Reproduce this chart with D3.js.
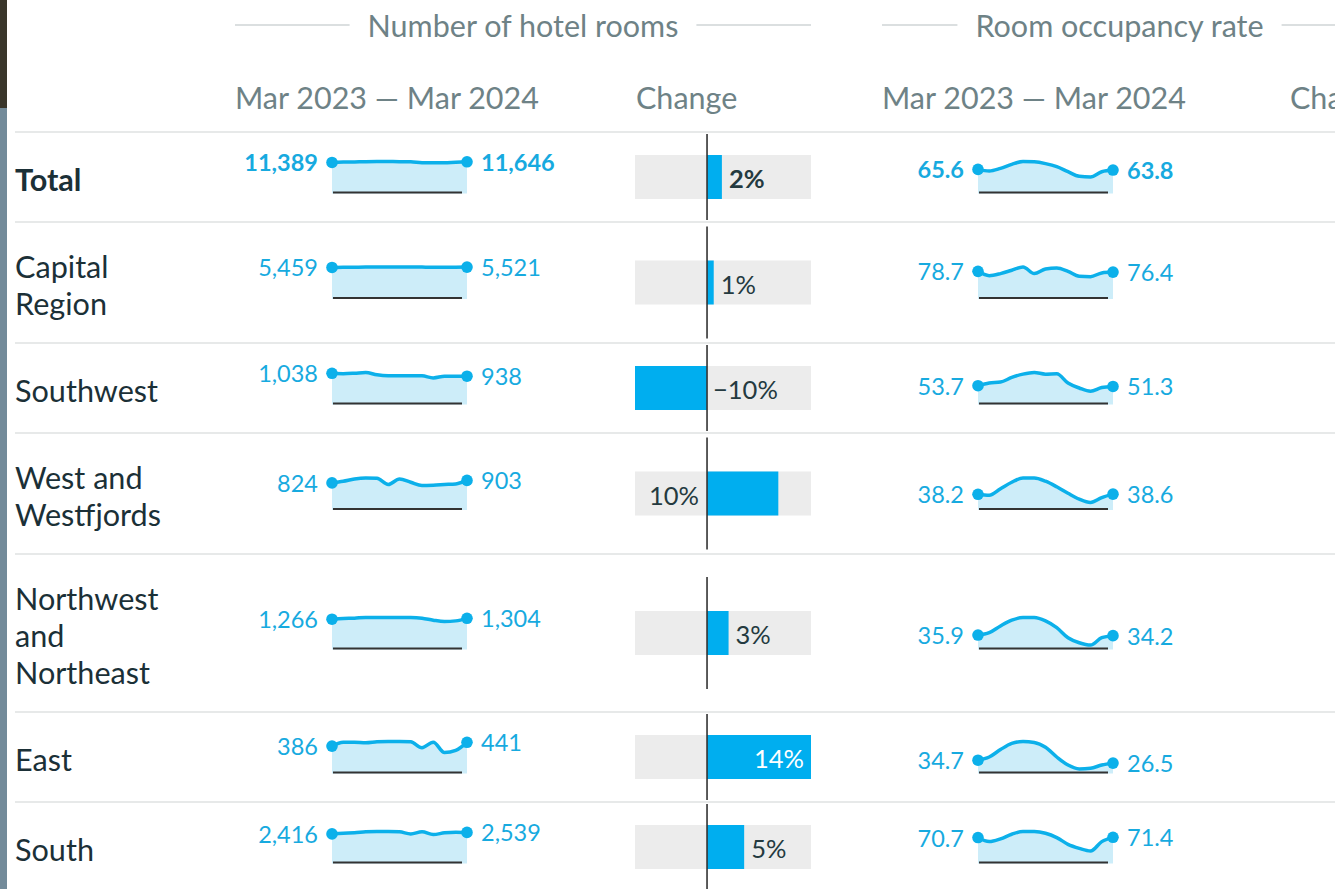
<!DOCTYPE html>
<html>
<head>
<meta charset="utf-8">
<script src="https://cdn.jsdelivr.net/npm/d3@7"></script>
<style>
  body { margin: 0; background: #fff; font-family: Lato, "Open Sans", sans-serif; }
  svg { display: block; }
</style>
</head>
<body>
<svg id="chart" width="1341" height="889"></svg>
<script>
'use strict';

// ---- data ----
var regions = ['Total', 'Capital Region', 'Southwest', 'West and Westfjords',
  'Northwest and Northeast', 'East', 'South'];

var months = ['Mar 2023', 'Apr 2023', 'May 2023', 'Jun 2023', 'Jul 2023', 'Aug 2023',
  'Sep 2023', 'Oct 2023', 'Nov 2023', 'Dec 2023', 'Jan 2024', 'Feb 2024', 'Mar 2024'];

// number of hotel rooms, per month
var roomsTotal     = [11389, 11520, 11600, 11700, 11750, 11720, 11700, 11650, 11300, 11250, 11300, 11500, 11646];
var roomsCapital   = [5459, 5480, 5500, 5520, 5530, 5540, 5540, 5530, 5520, 5510, 5510, 5515, 5521];
var roomsSouthwest = [1038, 1025, 1040, 1065, 985, 955, 955, 955, 950, 880, 935, 940, 938];
var roomsWest      = [824, 876, 948, 979, 968, 773, 948, 845, 742, 752, 773, 793, 903];
var roomsNorth     = [1266, 1295, 1310, 1339, 1339, 1339, 1339, 1339, 1310, 1222, 1164, 1193, 1304];
var roomsEast      = [386, 443, 443, 434, 448, 453, 453, 448, 362, 443, 291, 324, 441];
var roomsSouth     = [2416, 2473, 2502, 2588, 2617, 2617, 2588, 2416, 2588, 2358, 2502, 2560, 2539];

// room occupancy rate (%), per month
var occTotal     = [65.6, 61.0, 68.6, 80.0, 88.0, 87.0, 82.0, 73.5, 59.0, 46.0, 44.0, 59.0, 63.8];
var occCapital   = [78.7, 66.0, 72.0, 82.0, 91.5, 72.0, 85.6, 88.6, 78.7, 64.0, 63.0, 74.0, 76.4];
var occSouthwest = [53.7, 61.6, 64.6, 78.5, 88.5, 93.4, 88.5, 89.5, 61.6, 46.7, 36.8, 48.0, 51.3];
var occWest      = [38.2, 35.7, 52.6, 69.6, 80.6, 80.6, 72.2, 57.7, 40.8, 25.5, 17.0, 29.7, 38.6];
var occNorth     = [35.9, 42.2, 60.1, 75.4, 82.6, 82.6, 73.6, 55.6, 28.7, 15.3, 9.0, 28.7, 34.2];
var occEast      = [34.7, 43.8, 64.8, 82.2, 87.6, 84.9, 71.2, 43.8, 21.0, 10.0, 11.9, 21.0, 26.5];
var occSouth     = [70.7, 59.2, 66.9, 80.2, 87.9, 87.9, 83.1, 70.7, 51.6, 40.1, 32.5, 59.2, 71.4];

// change in number of rooms (%)
var roomsChange = [2.0, 0.9, -9.7, 9.6, 2.9, 14.0, 5.0];

var roomSeries = [roomsTotal, roomsCapital, roomsSouthwest, roomsWest, roomsNorth, roomsEast, roomsSouth];
var occSeries  = [occTotal, occCapital, occSouthwest, occWest, occNorth, occEast, occSouth];

// ---- look ----
var W = 1341, H = 889, clipRight = 1335;
var BLUE = '#0cb0ea', LABEL_BLUE = '#17aadf', FILL = '#cdedf9';
var HEAD = '#6e8286', DARK = '#1b3037';

var svg = d3.select('#chart');
svg.append('defs').append('clipPath').attr('id', 'clip')
  .append('rect').attr('width', clipRight).attr('height', H);

// edge of the screenshot on the left
svg.append('rect').attr('x', 0).attr('y', 0).attr('width', 7).attr('height', 108).attr('fill', '#3a362b');
svg.append('rect').attr('x', 0).attr('y', 108).attr('width', 7).attr('height', H - 108).attr('fill', '#738b9a');

var root = svg.append('g').attr('clip-path', 'url(#clip)');

var groups = [
  { title: 'Number of hotel rooms', x0: 235, x1: 811, sparkX: [332, 467], changeX: 636,
    series: roomSeries, fmt: d3.format(',') },
  { title: 'Room occupancy rate', x0: 882, x1: 1357, sparkX: [978, 1113], changeX: 1290,
    series: occSeries, fmt: d3.format('.1f') }
];

// group titles with rules either side
groups.forEach(function(g) {
  var mid = (g.x0 + g.x1) / 2;
  var t = root.append('text')
    .attr('x', mid).attr('y', 25)
    .attr('text-anchor', 'middle').attr('dominant-baseline', 'central')
    .style('font-size', '30.5px').style('fill', HEAD)
    .text(g.title);
  var w = t.node().getComputedTextLength();

  root.append('line')
    .attr('x1', g.x0).attr('x2', mid - w / 2 - 18).attr('y1', 25).attr('y2', 25)
    .style('stroke', '#cfd5d6').style('stroke-width', 1.5);
  root.append('line')
    .attr('x1', mid + w / 2 + 18).attr('x2', g.x1).attr('y1', 25).attr('y2', 25)
    .style('stroke', '#cfd5d6').style('stroke-width', 1.5);

  root.append('text')
    .attr('x', g.x0).attr('y', 97).attr('dominant-baseline', 'central')
    .style('font-size', '30.5px').style('fill', HEAD)
    .text(months[0] + ' \u2014 ' + months[months.length - 1]);
  // the last header runs off the edge of the screenshot, as in the source
  root.append('text')
    .attr('x', g.changeX).attr('y', 97).attr('dominant-baseline', 'central')
    .style('font-size', '30.5px').style('fill', HEAD)
    .text('Change');
});

// wrap region names to fit the label column
var labelWidth = 180, lineH = 37, labelSize = '30.6px';
var wrapped = regions.map(function(name, i) {
  var probe = root.append('text')
    .style('font-size', labelSize).style('font-weight', i === 0 ? 700 : 400);
  var words = name.split(' '), lines = [], cur = '';
  words.forEach(function(w) {
    var tryLine = cur ? cur + ' ' + w : w;
    probe.text(tryLine);
    if (cur && probe.node().getComputedTextLength() > labelWidth) {
      lines.push(cur);
      cur = w;
    } else {
      cur = tryLine;
    }
  });
  lines.push(cur);
  probe.remove();
  return lines;
});

// row layout
var rowY = 132;
var rows = wrapped.map(function(lines) {
  var h = Math.max(90, lines.length * lineH + 47);
  var r = { top: rowY, h: h, cy: rowY + h / 2 };
  rowY += h;
  return r;
});

// separators
rows.concat([{ top: rowY }]).forEach(function(r) {
  root.append('line')
    .attr('x1', 15).attr('x2', clipRight).attr('y1', r.top).attr('y2', r.top)
    .style('stroke', '#e7e9e9').style('stroke-width', 2);
});

// row labels
rows.forEach(function(r, i) {
  var lines = wrapped[i];
  var t = root.append('text')
    .style('font-size', labelSize).style('fill', DARK)
    .style('font-weight', i === 0 ? 700 : 400);
  lines.forEach(function(l, j) {
    t.append('tspan')
      .attr('x', 15)
      .attr('y', r.cy + 2 + (j - (lines.length - 1) / 2) * lineH)
      .attr('dominant-baseline', 'central')
      .text(l);
  });
});

// sparklines
var sparkH = 31;
groups.forEach(function(g) {
  var x = d3.scalePoint().domain(months).range(g.sparkX);

  rows.forEach(function(r, i) {
    var data = g.series[i];
    var base = r.cy + 15.5;
    var y = d3.scaleLinear().domain([0, d3.max(data)]).range([base, base - sparkH]);
    var bold = i === 0 ? 700 : 400;
    var sg = root.append('g').attr('class', 'spark');

    var area = d3.area()
      .x(function(d, k) { return x(months[k]); })
      .y0(base + 1)
      .y1(function(d) { return y(d); })
      .curve(d3.curveMonotoneX);
    var line = d3.line()
      .x(function(d, k) { return x(months[k]); })
      .y(function(d) { return y(d); })
      .curve(d3.curveMonotoneX);

    sg.append('path').datum(data).attr('d', area).style('fill', FILL);
    sg.append('line')
      .attr('x1', g.sparkX[0] + 1).attr('x2', g.sparkX[1] - 5)
      .attr('y1', base).attr('y2', base)
      .style('stroke', '#333').style('stroke-width', 2);
    sg.append('path').datum(data).attr('d', line)
      .style('fill', 'none').style('stroke', BLUE).style('stroke-width', 3.5)
      .style('stroke-linejoin', 'round');

    var ends = [0, data.length - 1];
    sg.selectAll('circle').data(ends).enter().append('circle')
      .attr('cx', function(k) { return x(months[k]); })
      .attr('cy', function(k) { return y(data[k]); })
      .attr('r', 5.8)
      .style('fill', BLUE);

    sg.selectAll('text').data(ends).enter().append('text')
      .attr('x', function(k) { return k === 0 ? x(months[k]) - 14 : x(months[k]) + 14; })
      .attr('y', function(k) { return y(data[k]); })
      .attr('text-anchor', function(k) { return k === 0 ? 'end' : 'start'; })
      .attr('dominant-baseline', 'central')
      .style('font-size', '23.5px').style('font-weight', bold).style('fill', LABEL_BLUE)
      .text(function(k) { return g.fmt(data[k]); });
  });
});

// change bars (hotel rooms)
var bgLeft = 635, bgRight = 811, barH = 44;
var cx = d3.scaleLinear().domain(d3.extent(roomsChange)).range([bgLeft, bgRight]);
var pct = d3.format('.0f');

rows.forEach(function(r, i) {
  var v = roomsChange[i];
  var bg = root.append('g').attr('class', 'change');

  bg.append('rect')
    .attr('x', bgLeft).attr('y', r.cy - barH / 2)
    .attr('width', bgRight - bgLeft).attr('height', barH)
    .style('fill', '#ececec');
  bg.append('rect')
    .attr('x', Math.min(cx(0), cx(v))).attr('y', r.cy - barH / 2)
    .attr('width', Math.abs(cx(v) - cx(0))).attr('height', barH)
    .style('fill', '#00aeef');

  var zl = Math.min(r.h - 4, 112);
  bg.append('line')
    .attr('x1', cx(0)).attr('x2', cx(0))
    .attr('y1', r.cy - zl / 2).attr('y2', r.cy + zl / 2)
    .style('stroke', '#333').style('stroke-width', 1.6);

  var t = bg.append('text')
    .attr('y', r.cy + 1).attr('dominant-baseline', 'central')
    .style('font-size', '25.5px').style('fill', '#243a40')
    .style('font-weight', i === 0 ? 700 : 400)
    .text(pct(v) + '%');
  var tw = t.node().getComputedTextLength();

  if (v < 0) {
    t.attr('x', cx(0) + 6).attr('text-anchor', 'start');
  } else if (cx(v) + 7 + tw <= bgRight) {
    t.attr('x', cx(v) + 7).attr('text-anchor', 'start');
  } else if (cx(v) >= bgRight - 1) {
    // bar runs to the edge: put the label inside
    t.attr('x', cx(v) - 7).attr('text-anchor', 'end').style('fill', '#fff');
  } else {
    t.attr('x', cx(0) - 8).attr('text-anchor', 'end');
  }
});
</script>
</body>
</html>
